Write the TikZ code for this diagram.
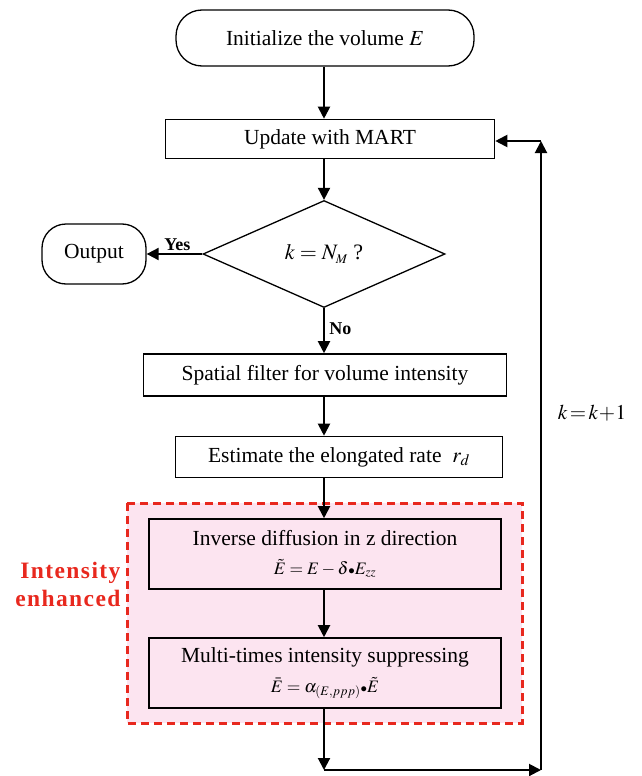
\documentclass[tikz,border=0pt]{standalone}
\usepackage{amsmath}
\usepackage{mathptmx}
\usepackage{fontspec}
\setmainfont{Liberation Serif}
\newfontfamily\spacedfont[LetterSpace=6]{Liberation Serif}
\usepackage{tikz}
\usetikzlibrary{arrows.meta,positioning,shapes.geometric,calc}
\definecolor{boxpink}{RGB}{252,228,240}
\definecolor{dashred}{RGB}{232,40,30}
\newcommand{\formsize}{\fontsize{17.5}{20}\selectfont}
\newcommand{\dotop}{\mathord{\scriptstyle\bullet}}

\begin{document}
\begin{tikzpicture}[x=1pt, y=-1pt,
  block/.style={draw, line width=1.6pt, align=center, inner sep=0pt, font=\fontsize{21.5}{25}\selectfont},
  term/.style={draw, line width=1.3pt, rounded corners=26pt, align=center, inner sep=0pt, font=\fontsize{21.5}{25}\selectfont},
  decision/.style={draw, diamond, line width=1.3pt, inner sep=0pt, aspect=2.26, minimum width=242pt, minimum height=107pt, font=\fontsize{22}{25}\selectfont},
  tag/.style={font=\fontsize{18}{20}\selectfont\bfseries},
  arrow/.style={-{Triangle[length=12pt,width=12pt]}, line width=2pt}
]
\useasboundingbox (0,0) rectangle (642,776);
% enhancement region behind the two boxes
\draw[dashred, fill=boxpink, line width=3pt, dash pattern=on 8pt off 5pt] (127,503) rectangle (522,723);
\node[anchor=east, dashred, align=right, font=\fontsize{23.5}{28}\spacedfont\bfseries] (enhlabel) at (124,584) {Intensity\\enhanced};

% main column
\coordinate (spine) at (324,0);
\node[term, minimum width=298pt, minimum height=56pt] (init) at (325,38) {Initialize the volume $E$};
\node[block, minimum width=329pt, minimum height=39pt] (mart) at (330,139) {Update with MART};
\node[decision] (check) at (324,254) {$k=N_{\scriptscriptstyle M}$ ?};
\node[term, rounded corners=24pt, minimum width=104pt, minimum height=60pt] (output) at (94,254) {Output};
\node[block, minimum width=363pt, minimum height=42pt] (spatial) at (325,375) {Spatial filter for volume intensity};
\node[block, minimum width=327pt, minimum height=41pt] (rate) at (339,457) {Estimate the elongated rate \ $r_d$};
\node[block, minimum width=352pt, minimum height=70pt] (inverse) at (325,554) {Inverse diffusion in z direction\\[4pt]{\formsize $\tilde{E}=E-\delta\dotop E_{zz}$}};
\node[block, minimum width=352pt, minimum height=70pt] (suppress) at (325,673) {Multi-times intensity suppressing\\[5pt]{\formsize $\bar{E}=\alpha_{(E,ppp)}\dotop\tilde{E}$}};

\draw[arrow] (init.south -| spine) -- (mart.north -| spine);
\draw[arrow] (mart.south -| spine) -- (check.north);
\draw[arrow] (check.west) -- (output.east) node[tag, pos=0.45, above=-1pt] {Yes};
\draw[arrow] (check.south) -- (spatial.north -| spine) node[tag, pos=0.45, right=1pt] {No};
\draw[arrow] (spatial.south -| spine) -- (rate.north -| spine);
\draw[arrow] (rate.south -| spine) -- (inverse.north -| spine);
\draw[arrow] (inverse.south -| spine) -- (suppress.north -| spine);

% iteration loop k = k+1
\coordinate (loopa) at (324,770);
\coordinate (loopb) at (541,770);
\coordinate (loopc) at (541,141);
\draw[arrow] (suppress.south -| spine) -- (loopa);
\draw[arrow] (loopa) -- (loopb);
\draw[arrow] (loopb) -- (loopc);
\draw[arrow] (loopc) -- (loopc -| mart.east);
\node[font=\fontsize{21}{24}\selectfont] (incr) at (592,413) {$k\!=\!k\!+\!1$};
\end{tikzpicture}
\end{document}
